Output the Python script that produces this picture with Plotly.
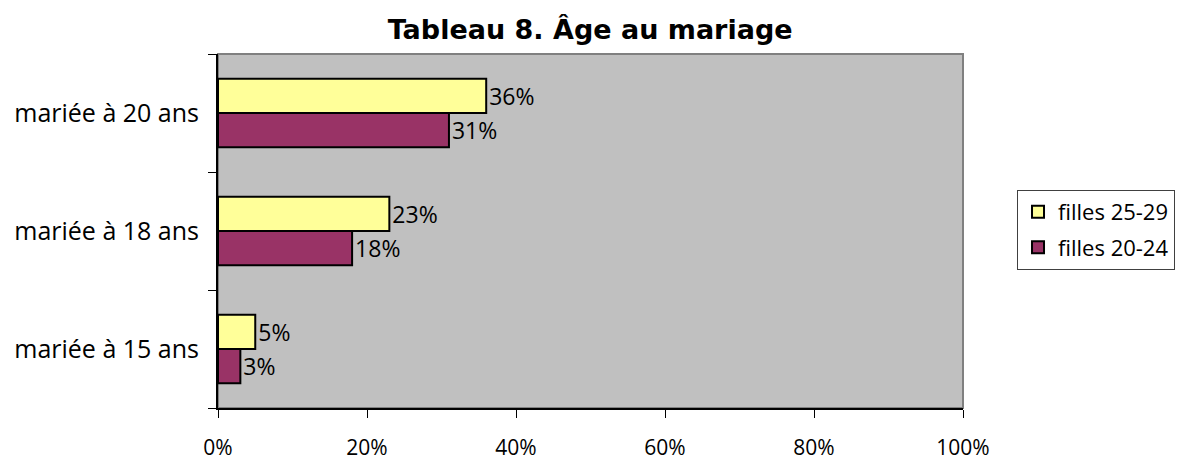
import plotly.graph_objects as go

categories = ["mariée à 15 ans", "mariée à 18 ans", "mariée à 20 ans"]
filles_20_24 = [3, 18, 31]
filles_25_29 = [5, 23, 36]
x_ticks = [0, 20, 40, 60, 80, 100]
x_tick_labels = ["0%", "20%", "40%", "60%", "80%", "100%"]

FONT = "Open Sans"

fig = go.Figure()
fig.add_trace(go.Bar(
    y=categories, x=filles_20_24, orientation="h", name="filles 20-24",
    legendgroup="a", legendrank=2,
    marker=dict(color="#993366", line=dict(color="black", width=2)),
    text=[f"{v}%" for v in filles_20_24], textposition="outside",
    textfont=dict(family=FONT, size=23, color="black"), cliponaxis=False,
))
fig.add_trace(go.Bar(
    y=categories, x=filles_25_29, orientation="h", name="filles 25-29",
    legendgroup="b", legendrank=1,
    marker=dict(color="#FFFF99", line=dict(color="black", width=2)),
    text=[f"{v}%" for v in filles_25_29], textposition="outside",
    textfont=dict(family=FONT, size=23, color="black"), cliponaxis=False,
))

# page body has an 8px margin: margins compensate so the plot lands where the reference has it
fig.update_layout(
    width=1188, height=463,
    margin=dict(l=210, r=233, t=46, b=63, autoexpand=False),
    paper_bgcolor="white", plot_bgcolor="#C0C0C0",
    barmode="group", bargap=0.42, bargroupgap=0,
    title=dict(text="<b>Tableau 8. Âge au mariage</b>", x=0.49, xanchor="center",
               y=0.954, yanchor="middle",
               font=dict(family="DejaVu Sans", size=27, color="black")),
    font=dict(family=FONT, size=22, color="black"),
    legend=dict(traceorder="grouped", tracegroupgap=4,
                x=1.0725, xanchor="left", y=0.503, yanchor="middle",
                bgcolor="white", bordercolor="#404040", borderwidth=1,
                font=dict(family=FONT, size=22, color="black"),
                itemwidth=30),
    showlegend=True,
    xaxis=dict(range=[0, 100], tickvals=x_ticks, ticktext=x_tick_labels,
               showgrid=False, zeroline=False, showline=True, linecolor="black", linewidth=2,
               ticks="outside", ticklen=8, tickcolor="black", tickwidth=1,
               tickfont=dict(family=FONT, size=21), ticklabelstandoff=12, fixedrange=True),
    yaxis=dict(categoryorder="array", categoryarray=categories,
               showgrid=False, zeroline=False, showline=True, linecolor="black", linewidth=2,
               ticks="outside", ticklen=8, tickcolor="black", tickwidth=1, tickson="boundaries",
               tickfont=dict(family=FONT, size=25), ticklabelstandoff=12, fixedrange=True),
    shapes=[dict(type="rect", xref="paper", yref="paper", x0=0, x1=1, y0=0, y1=1,
                 line=dict(color="#808080", width=2), layer="below")],
)

fig.write_html("out.html")
